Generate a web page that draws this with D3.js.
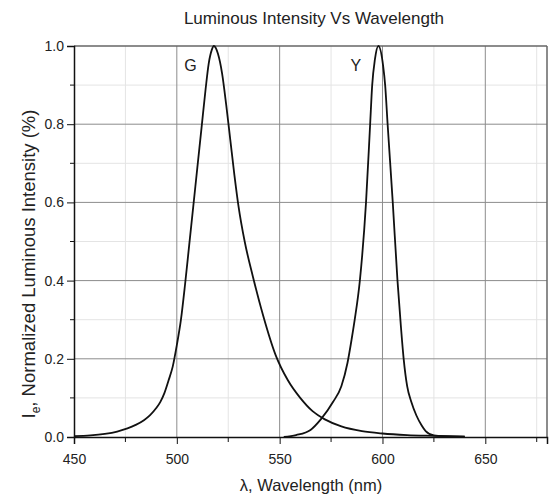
<!DOCTYPE html>
<html>
<head>
<meta charset="utf-8">
<script src="https://cdn.jsdelivr.net/npm/d3@7"></script>
<style>
  body { margin: 0; background: #fff; }
  svg text { font-family: "Liberation Sans", Arial, sans-serif; fill: #222; }
</style>
</head>
<body>
<div id="chart"></div>
<script>
// G curve (nm, normalized intensity)
const gWavelength = [450, 458, 465, 471, 476, 480, 484, 487, 490, 492, 494, 496, 498, 500, 502, 504, 506, 508, 510, 512, 514, 515.5, 517, 518,
  520, 522, 524, 526, 528, 530, 533, 537, 542, 548, 554, 560, 566, 572, 580, 590, 600, 612, 625, 640];
const gIntensity = [0.002, 0.004, 0.008, 0.014, 0.022, 0.031, 0.043, 0.056, 0.074, 0.09, 0.113, 0.145, 0.18, 0.235, 0.3, 0.39, 0.49, 0.59, 0.69, 0.79, 0.89, 0.955, 0.99, 1.0,
  0.98, 0.93, 0.85, 0.76, 0.67, 0.59, 0.5, 0.41, 0.31, 0.21, 0.145, 0.1, 0.066, 0.045, 0.027, 0.015, 0.009, 0.005, 0.003, 0.001];

// Y curve
const yWavelength = [552, 558, 565, 570, 576, 580, 583, 585, 586.5, 589, 592, 594, 595, 596.3, 598,
  600.3, 601.3, 602.5, 605, 607.3, 609, 610.3, 612, 614, 616.5, 619, 621, 625, 630, 640];
const yIntensity = [0.0, 0.005, 0.018, 0.045, 0.09, 0.13, 0.19, 0.25, 0.3, 0.4, 0.6, 0.8, 0.9, 0.965, 1.0,
  0.95, 0.9, 0.8, 0.6, 0.4, 0.28, 0.2, 0.13, 0.09, 0.055, 0.03, 0.015, 0.004, 0.002, 0.001];

const xMajor = [450, 500, 550, 600, 650];
const xMinor = [475, 525, 575, 625, 675];
const yMajor = [0, 0.2, 0.4, 0.6, 0.8, 1.0];
const yMinor = [0.1, 0.3, 0.5, 0.7, 0.9];

const labels = [{ text: "G", x: 506.6 }, { text: "Y", x: 587.1 }];

var margin = {top: 46, right: 3, bottom: 58, left: 74},
    width = 550 - margin.left - margin.right,
    height = 495 - margin.top - margin.bottom;

var svg = d3.select("#chart").append("svg")
    .attr("width", 550)
    .attr("height", 495);

var g = svg.append("g")
    .attr("transform", "translate(" + margin.left + "," + margin.top + ")");

var x = d3.scaleLinear().domain([450, 680]).range([0, width]);
var y = d3.scaleLinear().domain([0, 1]).range([height, 0]);

// minor grid
g.selectAll(".vminor").data(xMinor).enter().append("line")
    .attr("x1", d => x(d)).attr("x2", d => x(d))
    .attr("y1", 0).attr("y2", height)
    .attr("stroke", "#e4e4e4").attr("stroke-width", 1);
g.selectAll(".hminor").data(yMinor).enter().append("line")
    .attr("x1", 0).attr("x2", width)
    .attr("y1", d => y(d)).attr("y2", d => y(d))
    .attr("stroke", "#e4e4e4").attr("stroke-width", 1);

// major grid
g.selectAll(".vmajor").data(xMajor.slice(1)).enter().append("line")
    .attr("x1", d => x(d)).attr("x2", d => x(d))
    .attr("y1", 0).attr("y2", height)
    .attr("stroke", "#8c8c8c").attr("stroke-width", 1);
g.selectAll(".hmajor").data(yMajor.slice(1, -1)).enter().append("line")
    .attr("x1", 0).attr("x2", width)
    .attr("y1", d => y(d)).attr("y2", d => y(d))
    .attr("stroke", "#8c8c8c").attr("stroke-width", 1);

// top / right frame
g.append("line").attr("x1", 0).attr("x2", width).attr("y1", 0).attr("y2", 0)
    .attr("stroke", "#666").attr("stroke-width", 1.5);
g.append("line").attr("x1", width).attr("x2", width).attr("y1", 0).attr("y2", height)
    .attr("stroke", "#666").attr("stroke-width", 1.5);

// curves
var line = d3.line()
    .x(d => x(d[0]))
    .y(d => y(d[1]))
    .curve(d3.curveMonotoneX);

g.append("path")
    .datum(d3.zip(gWavelength, gIntensity))
    .attr("fill", "none").attr("stroke", "#111").attr("stroke-width", 1.8)
    .attr("d", line);
g.append("path")
    .datum(d3.zip(yWavelength, yIntensity))
    .attr("fill", "none").attr("stroke", "#111").attr("stroke-width", 1.8)
    .attr("d", line);

g.selectAll(".lbl").data(labels).enter().append("text")
    .attr("x", d => x(d.x)).attr("y", y(0.935))
    .attr("text-anchor", "middle")
    .style("font-size", "16px")
    .text(d => d.text);

// axes
var xAxis = g.append("g")
    .attr("transform", "translate(0," + height + ")")
    .call(d3.axisBottom(x).tickValues(xMajor).tickSize(7).tickPadding(10).tickFormat(d3.format("d")));
xAxis.append("g").selectAll("line").data(xMinor).enter().append("line")
    .attr("x1", d => x(d)).attr("x2", d => x(d)).attr("y1", 0).attr("y2", 5)
    .attr("stroke", "#111");

var yAxis = g.append("g")
    .call(d3.axisLeft(y).tickValues(yMajor).tickSize(7).tickPadding(3).tickFormat(d3.format(".1f")));
yAxis.append("g").selectAll("line").data(yMinor).enter().append("line")
    .attr("x1", 0).attr("x2", -4).attr("y1", d => y(d)).attr("y2", d => y(d))
    .attr("stroke", "#111");

[xAxis, yAxis].forEach(a => {
    a.select(".domain").attr("stroke", "#111").attr("stroke-width", 1.5);
    a.selectAll(".tick line").attr("stroke", "#111");
    a.selectAll("text").style("font-size", "14px").attr("fill", "#222");
});

// titles
svg.append("text")
    .attr("x", 314).attr("y", 24)
    .attr("text-anchor", "middle")
    .style("font-size", "17px")
    .text("Luminous Intensity Vs Wavelength");

svg.append("text")
    .attr("x", 311).attr("y", 491)
    .attr("text-anchor", "middle")
    .style("font-size", "16.5px")
    .text("λ, Wavelength (nm)");

var yl = svg.append("text")
    .attr("transform", "translate(35,264) rotate(-90)")
    .attr("text-anchor", "middle")
    .style("font-size", "18.5px");
yl.append("tspan").text("I");
yl.append("tspan").attr("dy", 5).style("font-size", "12px").text("e");
yl.append("tspan").attr("dy", -5).text(", Normalized Luminous Intensity (%)");
</script>
</body>
</html>
